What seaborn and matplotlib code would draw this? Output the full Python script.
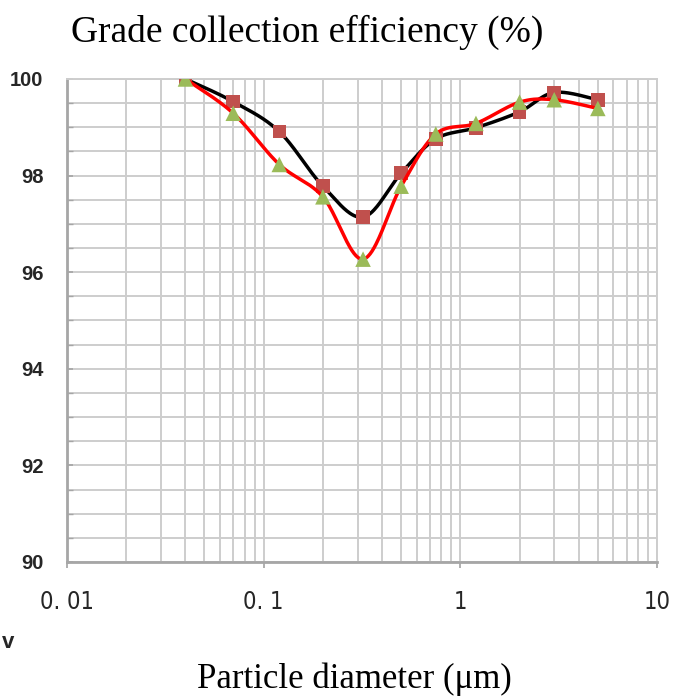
import numpy as np
import pandas as pd
import matplotlib
matplotlib.use("Agg")
import matplotlib.pyplot as plt
import seaborn as sns
from matplotlib.ticker import FixedLocator, NullFormatter, MultipleLocator

# ---- data ----
diameter = [0.04, 0.07, 0.12, 0.2, 0.32, 0.5, 0.75, 1.2, 2, 3, 5]
eff_square = [100.0, 99.53, 98.91, 97.78, 97.14, 98.05, 98.76, 98.99, 99.32, 99.72, 99.57]
eff_triangle = [100.0, 99.29, 98.23, 97.56, 96.27, 97.78, 98.86, 99.08, 99.52, 99.57, 99.39]
x_ticks = [0.01, 0.1, 1, 10]
x_tick_labels = ["0. 01", "0. 1", "1", "10"]
y_ticks = [90, 92, 94, 96, 98, 100]

sns.set_theme(style="white")
plt.rcParams['font.family'] = ['DejaVu Sans']

fig = plt.figure(figsize=(6.73, 6.97), dpi=100)
ax = fig.add_axes([0.0996, 0.1937, 0.8767, 0.693])

XMIN, XMAX, YMIN, YMAX = 0.01, 10, 90, 100
W_PX, H_PX = 590.0, 483.0


def smooth(xs, ys, n=40):
    # Excel-like smoothed line: cubic Bezier through the points in screen space
    u = (np.log10(xs) - np.log10(XMIN)) / (np.log10(XMAX) - np.log10(XMIN)) * W_PX
    v = (np.asarray(ys) - YMIN) / (YMAX - YMIN) * H_PX
    P = np.column_stack([u, v])
    out = []
    m = len(P)
    for i in range(m - 1):
        p0 = P[i - 1] if i > 0 else P[i]
        p1 = P[i]
        p2 = P[i + 1]
        p3 = P[i + 2] if i + 2 < m else P[i + 1]
        c1 = p1 + (p2 - p0) / 6.0
        c2 = p2 - (p3 - p1) / 6.0
        t = np.linspace(0, 1, n)[:, None]
        seg = ((1 - t) ** 3) * p1 + 3 * ((1 - t) ** 2) * t * c1 + 3 * (1 - t) * t ** 2 * c2 + t ** 3 * p2
        out.append(seg if i == 0 else seg[1:])
    S = np.vstack(out)
    sx = 10 ** (S[:, 0] / W_PX * (np.log10(XMAX) - np.log10(XMIN)) + np.log10(XMIN))
    sy = S[:, 1] / H_PX * (YMAX - YMIN) + YMIN
    return sx, sy


df = pd.DataFrame({"d": diameter, "sq": eff_square, "tr": eff_triangle})

sx, sy = smooth(np.array(diameter), eff_square)
ax.plot(sx, sy, color="black", lw=2.5, zorder=3, solid_capstyle="round")
sns.scatterplot(data=df, x="d", y="sq", marker="s", s=95, color="#c0504d",
                edgecolor="none", ax=ax, zorder=4)
sx, sy = smooth(np.array(diameter), eff_triangle)
ax.plot(sx, sy, color="#ff0000", lw=2.5, zorder=5, solid_capstyle="round")
sns.scatterplot(data=df, x="d", y="tr", marker="^", s=125, color="#9bbb59",
                edgecolor="none", ax=ax, zorder=6)

ax.set_xscale("log")
ax.set_xlim(XMIN, XMAX)
ax.set_ylim(YMIN, YMAX)

ax.xaxis.set_major_locator(FixedLocator(x_ticks))
ax.set_xticklabels(x_tick_labels, family=["DejaVu Sans"], fontstretch="condensed",
                   fontsize=17)
minor = [m * 10.0 ** e for e in (-2, -1, 0) for m in range(2, 10)]
ax.xaxis.set_minor_locator(FixedLocator(minor))
ax.xaxis.set_minor_formatter(NullFormatter())

ax.set_yticks(y_ticks)
ax.set_yticklabels([str(v) for v in y_ticks], fontweight="bold", fontsize=14.5,
                   family="Liberation Sans")
ax.yaxis.set_minor_locator(MultipleLocator(0.5))

ax.grid(True, which="both", color="#cdcdcd", lw=1.4)
ax.set_axisbelow(True)
for s in ax.spines.values():
    s.set_color("#cdcdcd")
    s.set_linewidth(1.4)
ax.spines["left"].set_color("#a6a6a6")
ax.spines["left"].set_linewidth(2)
ax.spines["bottom"].set_color("#a6a6a6")
ax.spines["bottom"].set_linewidth(2)

ax.tick_params(axis="x", which="major", direction="out", length=4, color="#a6a6a6",
               pad=16, bottom=True)
ax.tick_params(axis="x", which="minor", length=0)
ax.tick_params(axis="y", which="both", direction="in", length=4, color="#a6a6a6",
               left=True, pad=17)
ax.set_xlabel("")
ax.set_ylabel("")

fig.text(0.456, 0.954, "Grade collection efficiency (%)", family="Liberation Serif",
         fontsize=27, ha="center", va="center", color="black")
fig.text(0.527, 0.025, "Particle diameter (μm)", family="Liberation Serif",
         fontsize=25, ha="center", va="center", color="black")
fig.text(0.003, 0.078, "v", fontweight="bold", fontsize=16, ha="left", va="center",
         family="Liberation Sans")

fig.savefig("out.png", dpi=100)
